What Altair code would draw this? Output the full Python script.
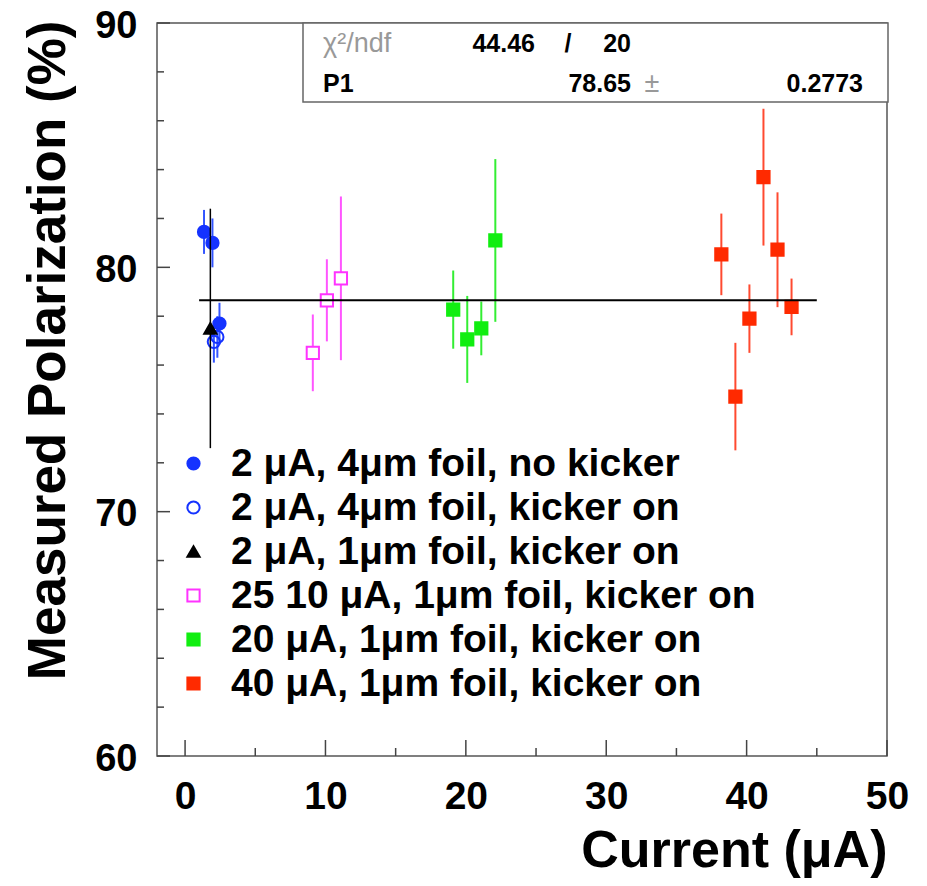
import altair as alt
import pandas as pd

FONT = "Liberation Sans"

# ---------------- data ----------------
series_names = [
    "2 μA, 4μm foil, no kicker",
    "2 μA, 4μm foil, kicker on",
    "2 μA, 1μm foil, kicker on",
    "25 10 μA, 1μm foil, kicker on",
    "20 μA, 1μm foil, kicker on",
    "40 μA, 1μm foil, kicker on",
]
series_shapes = ["circle", "circle", "triangle-up", "square", "square", "square"]
series_stroke = ["#1533ff", "#1533ff", "#000000", "#ff33ff", "#11ee11", "#ff2a00"]
series_fill = ["#1533ff", "transparent", "#000000", "#ffffff", "#11ee11", "#ff2a00"]
series_size = [150, 150, 135, 260, 260, 260]
bar_colors = ["#3355ff", "#3355ff", "#000000", "#ff55ff", "#33ee33", "#ff4a30"]
bar_widths = [2, 2, 1.5, 2, 2, 2]

blue_x = [1.35, 1.95, 2.45]
blue_y = [81.45, 81.0, 77.7]
blue_e = [0.9, 1.0, 0.85]

open_x = [2.3, 2.05]
open_y = [77.15, 76.95]
open_e = [0.85, 0.85]

tri_x = [1.8]
tri_y = [77.5]
tri_e = [4.9]

pink_x = [9.1, 10.1, 11.1]
pink_y = [76.5, 78.65, 79.55]
pink_e = [1.57, 1.68, 3.35]

green_x = [19.1, 20.1, 21.1, 22.1]
green_y = [78.27, 77.05, 77.5, 81.1]
green_e = [1.6, 1.78, 1.1, 3.33]

red_x = [38.2, 39.2, 40.2, 41.2, 42.2, 43.2]
red_y = [80.53, 74.71, 77.9, 83.69, 80.72, 78.38]
red_e = [1.67, 2.2, 1.4, 2.8, 2.35, 1.16]

fit_x = [1, 45]
chi2 = 44.46
ndf = 20
p1 = 78.65
p1_err = 0.2773

x_major = [0, 10, 20, 30, 40, 50]
x_minor = [5, 15, 25, 35, 45]
y_major = [60, 70, 80, 90]
y_minor = [62, 64, 66, 68, 72, 74, 76, 78, 82, 84, 86, 88]

# ---------------- tables ----------------
groups = [
    (blue_x, blue_y, blue_e),
    (open_x, open_y, open_e),
    (tri_x, tri_y, tri_e),
    (pink_x, pink_y, pink_e),
    (green_x, green_y, green_e),
    (red_x, red_y, red_e),
]
rows = []
for i, (xs, ys, es) in enumerate(groups):
    for xv, yv, ev in zip(xs, ys, es):
        rows.append({
            "series": series_names[i], "x": xv, "y": yv,
            "lo": yv - ev, "hi": yv + ev,
            "ecolor": bar_colors[i], "ew": bar_widths[i], "black": i == 2,
        })
df = pd.DataFrame(rows)
fit_df = pd.DataFrame({"x": fit_x, "y": [p1] * len(fit_x)})

xscale = alt.Scale(domain=[-2, 50], nice=False, zero=False)
yscale = alt.Scale(domain=[60, 90], nice=False, zero=False)

xax = alt.Axis(
    values=x_major, ticks=False, tickSize=0, domain=False, grid=False,
    labelFont=FONT, labelFontSize=39, labelFontWeight="bold", labelColor="black",
    labelPadding=52, labelBaseline="alphabetic", labelFlush=False, labelOverlap=False,
    title="Current (μA)", titleFont=FONT, titleFontSize=52, titleFontWeight="bold",
    titleColor="black", titleX=730, titleY=110, titleAlign="right",
    titleBaseline="alphabetic", titleAnchor="end",
)
yax = alt.Axis(
    values=y_major, ticks=False, tickSize=0, domain=False, grid=False,
    labelFont=FONT, labelFontSize=38, labelFontWeight="bold", labelColor="black",
    labelPadding=20, labelOffset=3, labelFlush=False, labelOverlap=False,
    title="Measured Polarization (%)", titleFont=FONT, titleFontSize=53,
    titleFontWeight="bold", titleColor="black", titleAngle=270, titleX=-93,
    titleY=-3, titleAlign="right", titleBaseline="alphabetic", titleAnchor="end",
)


def X(field):
    return alt.X(field, type="quantitative", scale=xscale, axis=xax)


def Y(field):
    return alt.Y(field, type="quantitative", scale=yscale, axis=yax)


TICK = "#444444"
xmaj = alt.Chart(pd.DataFrame({"x": x_major})).mark_rule(color=TICK, strokeWidth=1.5).encode(
    x=X("x"), y=alt.value(733), y2=alt.value(717))
xmin = alt.Chart(pd.DataFrame({"x": x_minor})).mark_rule(color=TICK, strokeWidth=1.5).encode(
    x=X("x"), y=alt.value(733), y2=alt.value(725))
ymaj = alt.Chart(pd.DataFrame({"y": y_major})).mark_rule(color=TICK, strokeWidth=1.5).encode(
    y=Y("y"), x=alt.value(0), x2=alt.value(13))
ymin = alt.Chart(pd.DataFrame({"y": y_minor})).mark_rule(color=TICK, strokeWidth=1.5).encode(
    y=Y("y"), x=alt.value(0), x2=alt.value(7))

base = alt.Chart(df)
bars = base.transform_filter("!datum.black").mark_rule().encode(
    x=X("x"), y=Y("lo"), y2="hi",
    color=alt.Color("ecolor:N", scale=None),
    strokeWidth=alt.StrokeWidth("ew:Q", scale=None),
)
black_bar = base.transform_filter("datum.black").mark_rule().encode(
    x=X("x"), y=Y("lo"), y2="hi",
    color=alt.Color("ecolor:N", scale=None),
    strokeWidth=alt.StrokeWidth("ew:Q", scale=None),
)

leg = alt.Legend(
    orient="none", legendX=17, legendY=421, title=None, padding=0,
    labelFont=FONT, labelFontSize=39, labelFontWeight="bold", labelColor="black",
    labelLimit=800, labelOffset=18, rowPadding=4, symbolStrokeWidth=2,
)
points = base.mark_point(opacity=1, strokeWidth=2).encode(
    x=X("x"), y=Y("y"),
    shape=alt.Shape("series:N", scale=alt.Scale(domain=series_names, range=series_shapes), legend=leg),
    stroke=alt.Stroke("series:N", scale=alt.Scale(domain=series_names, range=series_stroke), legend=leg),
    fill=alt.Fill("series:N", scale=alt.Scale(domain=series_names, range=series_fill), legend=leg),
    size=alt.Size("series:N", scale=alt.Scale(domain=series_names, range=series_size), legend=leg),
)

fit = alt.Chart(fit_df).mark_line(color="black", strokeWidth=2).encode(x=X("x"), y=Y("y"))

box = alt.Chart(pd.DataFrame({"t": [""]})).mark_rect(
    fill="white", stroke="#666666", strokeWidth=1.5).encode(
    x=alt.value(146), x2=alt.value(731), y=alt.value(0), y2=alt.value(79))


def label(text, xpx, ypx, align, bold=True, color="black", size=25):
    return alt.Chart(pd.DataFrame({"t": [text]})).mark_text(
        font=FONT, fontSize=size, fontWeight="bold" if bold else "normal",
        color=color, align=align, baseline="alphabetic").encode(
        text="t:N", x=alt.value(xpx), y=alt.value(ypx))


stats = [
    label("χ²/ndf", 166, 29, "left", bold=False, color="#999999", size=27),
    label(f"{chi2:.2f}", 378, 29, "right"),
    label("/", 411, 29, "center"),
    label(f"{ndf}", 474, 29, "right"),
    label("P1", 166, 69, "left"),
    label(f"{p1:.2f}", 474, 69, "right"),
    label("±", 495, 69, "center", bold=False, color="#999999", size=27),
    label(f"{p1_err:.4f}", 706, 69, "right"),
]

chart = alt.layer(
    xmaj, xmin, ymaj, ymin, bars, points, black_bar, fit, box, *stats
).properties(
    width=730, height=733,
    padding={"left": 149, "top": 15, "right": 25, "bottom": 122},
    autosize=alt.AutoSizeParams(type="none"),
    background="white",
).configure_view(stroke="#555555", strokeWidth=1.5)

chart.save("out.html", embed_options={"renderer": "svg", "actions": False})
